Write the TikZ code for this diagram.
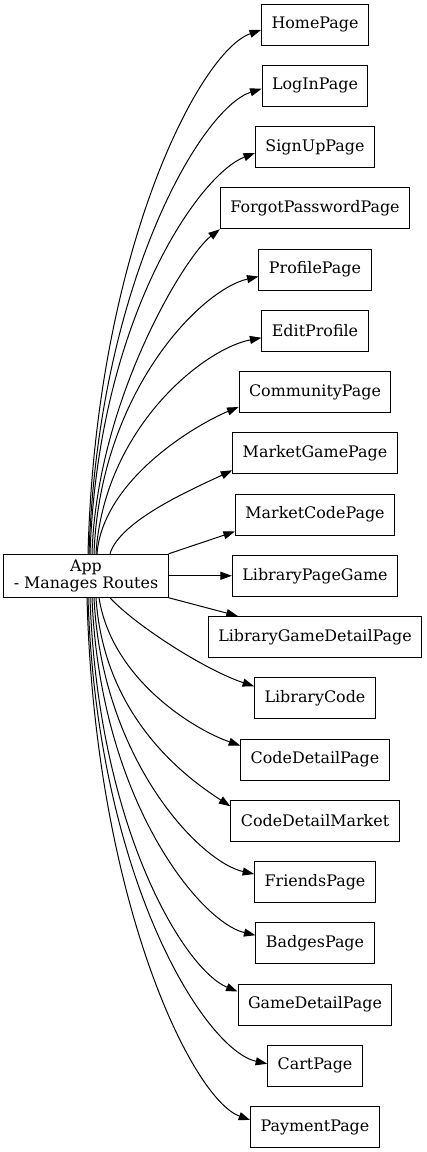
\documentclass[tikz,border=0pt]{standalone}
\usepackage{fontspec}
\setmainfont{DejaVu Serif}
\usetikzlibrary{arrows.meta,calc}
\begin{document}
\begin{tikzpicture}[x=1pt,y=-1pt,
  page/.style={draw, line width=1pt, minimum height=41pt, inner xsep=10pt, inner ysep=0pt,
    font=\fontsize{15.9}{16.5}\selectfont},
  link/.style={line width=1pt, -{Triangle[length=11.5pt,width=8pt]}}]
\useasboundingbox (0,0) rectangle (426,1152);
\node[page, minimum height=43pt, align=center] (app) at (86,575.75) {App\\- Manages Routes};
\node[page] (home) at (315,24.5) {HomePage};
\node[page] (login) at (315,85.75) {LogInPage};
\node[page] (signup) at (315,147) {SignUpPage};
\node[page] (forgot) at (315,208.25) {ForgotPasswordPage};
\node[page] (profile) at (315,269.5) {ProfilePage};
\node[page] (edit) at (315,330.75) {EditProfile};
\node[page] (community) at (315,392) {CommunityPage};
\node[page] (mgame) at (315,453.25) {MarketGamePage};
\node[page] (mcode) at (315,514.5) {MarketCodePage};
\node[page] (lpg) at (315,575.75) {LibraryPageGame};
\node[page] (lgdp) at (315,637) {LibraryGameDetailPage};
\node[page] (lcode) at (315,698.25) {LibraryCode};
\node[page] (cdp) at (315,759.5) {CodeDetailPage};
\node[page] (cdm) at (315,820.75) {CodeDetailMarket};
\node[page] (friends) at (315,882) {FriendsPage};
\node[page] (badges) at (315,943.25) {BadgesPage};
\node[page] (gdp) at (315,1004.5) {GameDetailPage};
\node[page] (cart) at (315,1065.75) {CartPage};
\node[page] (pay) at (315,1127) {PaymentPage};
% upward edges
\draw[link] ($(app.north)+(2,0)$) .. controls (96,250) and (200,51) .. ($(home.west)+(0,5.5)$);
\draw[link] ($(app.north)+(3,0)$) .. controls (98,284) and (201,108) .. ($(login.west)+(0,3)$);
\draw[link] ($(app.north)+(4,0)$) .. controls (98,321) and (198,175) .. ($(signup.west)+(0,6)$);
\draw[link] ($(app.north)+(6,0)$) .. controls (97,400) and (185,256) .. (forgot.south west);
\draw[link] ($(app.north)+(8,0)$) .. controls (100,393) and (200,290) .. ($(profile.west)+(0,7)$);
\draw[link] ($(app.north)+(10,0)$) .. controls (104,429) and (203,349) .. ($(edit.west)+(0,7)$);
\draw[link] ($(app.north)+(11,0)$) .. controls (103,480) and (195,425) .. ($(community.west)+(0,15)$);
\draw[link] ($(app.north)+(24,0)$) .. controls (120,520) and (195,488) .. ($(mgame.west)+(0,17)$);
\draw[link] (app.north east) -- ($(mcode.west)+(0,17)$);
\draw[link] (app.east) -- (lpg.west);
% downward edges
\draw[link] (app.south east) -- ($(lgdp.north west)+(30,0)$);
\draw[link] ($(app.south)+(24,0)$) .. controls (135,625) and (205,670) .. ($(lcode.west)+(0,-12)$);
\draw[link] ($(app.south)+(13,0)$) .. controls (112,680) and (195,730) .. ($(cdp.west)+(0,-14)$);
\draw[link] ($(app.south)+(10,0)$) .. controls (104,720) and (190,780) .. ($(cdm.west)+(0,-14.5)$);
\draw[link] ($(app.south)+(8,0)$) .. controls (102,760) and (200,862) .. ($(friends.west)+(0,-8)$);
\draw[link] ($(app.south)+(6,0)$) .. controls (100,800) and (200,922) .. ($(badges.west)+(0,-8)$);
\draw[link] ($(app.south)+(4,0)$) .. controls (98,830) and (185,970) .. ($(gdp.west)+(0,-13)$);
\draw[link] ($(app.south)+(2,0)$) .. controls (97,880) and (205,1050) .. ($(cart.west)+(0,-2)$);
\draw[link] ($(app.south)+(1,0)$) .. controls (95,900) and (192,1099) .. ($(pay.west)+(0,-7)$);
\end{tikzpicture}
\end{document}
